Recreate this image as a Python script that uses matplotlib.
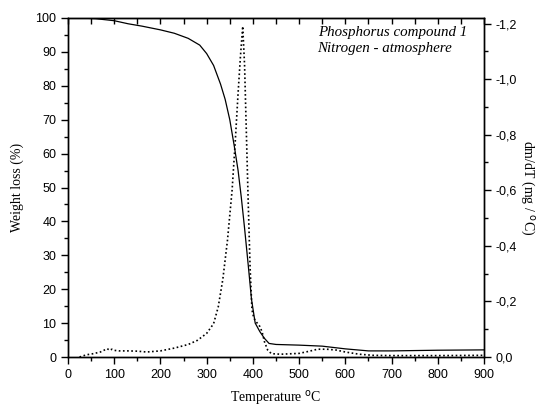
import numpy as np
import matplotlib
matplotlib.use("Agg")
import matplotlib.pyplot as plt
from matplotlib.ticker import MultipleLocator, FuncFormatter

# TGA (weight %) data
tga_T = [25, 60, 100, 130, 160, 200, 230, 260, 285, 300, 315, 330, 340, 350, 360, 368, 375, 382, 390, 397, 405, 415, 425, 435, 450, 500, 550, 600, 650, 700, 800, 900]
tga_W = [100, 99.8, 99.2, 98.3, 97.6, 96.5, 95.5, 94.0, 92.0, 89.5, 86.0, 80.5, 76.0, 70.0, 62.0, 55.0, 47.0, 38.0, 27.0, 17.0, 10.0, 7.5, 5.5, 4.0, 3.7, 3.5, 3.2, 2.4, 1.8, 1.8, 2.0, 2.1]

# DTG (mg/°C) data
dtg_T = [25, 40, 55, 70, 80, 85, 90, 95, 100, 110, 130, 150, 170, 200, 230, 260, 280, 300, 315, 325, 335, 345, 355, 362, 368, 373, 378, 382, 386, 390, 394, 398, 402, 408, 415, 420, 425, 432, 440, 460, 500, 520, 540, 560, 580, 600, 630, 660, 700, 800, 900]
dtg_V = [0.0, -0.008, -0.012, -0.018, -0.026, -0.030, -0.024, -0.028, -0.024, -0.022, -0.022, -0.021, -0.018, -0.022, -0.032, -0.045, -0.060, -0.085, -0.120, -0.180, -0.280, -0.420, -0.600, -0.780, -0.950, -1.080, -1.190, -1.050, -0.800, -0.550, -0.320, -0.170, -0.140, -0.125, -0.110, -0.090, -0.055, -0.025, -0.012, -0.010, -0.013, -0.020, -0.028, -0.028, -0.025, -0.018, -0.010, -0.006, -0.005, -0.005, -0.006]

x_label = "Temperature $^{\\rm o}$C"
y_label = "Weight loss (%)"
y2_label = "dm/dT (mg / $^{\\rm o}$C)"
note = "Phosphorus compound 1\nNitrogen - atmosphere"

fig = plt.figure(figsize=(5.41, 4.08), dpi=100)
ax = fig.add_axes([68/541, 1-357/408, (484-68)/541, (357-18)/408])

ax.plot(tga_T, tga_W, color="black", lw=0.9)
ax.set_xlim(0, 900)
ax.set_ylim(0, 100)

ax2 = ax.twinx()
ax2.plot(dtg_T, dtg_V, color="black", lw=1.2, linestyle=(0, (1, 1.5)))
ax2.set_ylim(0, -1.22)

ax.xaxis.set_major_locator(MultipleLocator(100))
ax.xaxis.set_minor_locator(MultipleLocator(50))
ax.yaxis.set_major_locator(MultipleLocator(10))
ax.yaxis.set_minor_locator(MultipleLocator(5))
ax2.yaxis.set_major_locator(MultipleLocator(0.2))
ax2.yaxis.set_minor_locator(MultipleLocator(0.1))
ax2.yaxis.set_major_formatter(FuncFormatter(lambda v, p: ("%.1f" % v).replace(".", ",").replace("-0,0", "0,0")))

ax.tick_params(axis="both", which="major", direction="out", length=5, width=1, labelsize=9)
ax.tick_params(axis="both", which="minor", direction="out", length=3, width=1)
ax2.tick_params(axis="y", which="major", direction="out", length=5, width=1, labelsize=9)
ax2.tick_params(axis="y", which="minor", direction="out", length=3, width=1)
for lab in ax.get_xticklabels() + ax.get_yticklabels() + ax2.get_yticklabels():
    lab.set_fontfamily("Liberation Sans")

# top ticks inward
axt = ax.secondary_xaxis("top")
axt.set_xticks(np.arange(0, 901, 50))
axt.tick_params(direction="in", length=4, width=1, labeltop=False)
axt.set_xticklabels([])

for a in (ax, ax2):
    for s in a.spines.values():
        s.set_linewidth(1)

ax.set_xlabel(x_label, fontfamily="Liberation Serif", fontsize=10, labelpad=6)
ax.set_ylabel(y_label, fontfamily="Liberation Serif", fontsize=10, labelpad=8)
ax2.set_ylabel(y2_label, fontfamily="Liberation Serif", fontsize=10, rotation=270, labelpad=14)

ax.text(0.6, 0.975, note, transform=ax.transAxes, ha="left", va="top",
        fontfamily="Liberation Serif", fontstyle="italic", fontsize=10.8, linespacing=1.25)

fig.savefig("out.png", dpi=100)
